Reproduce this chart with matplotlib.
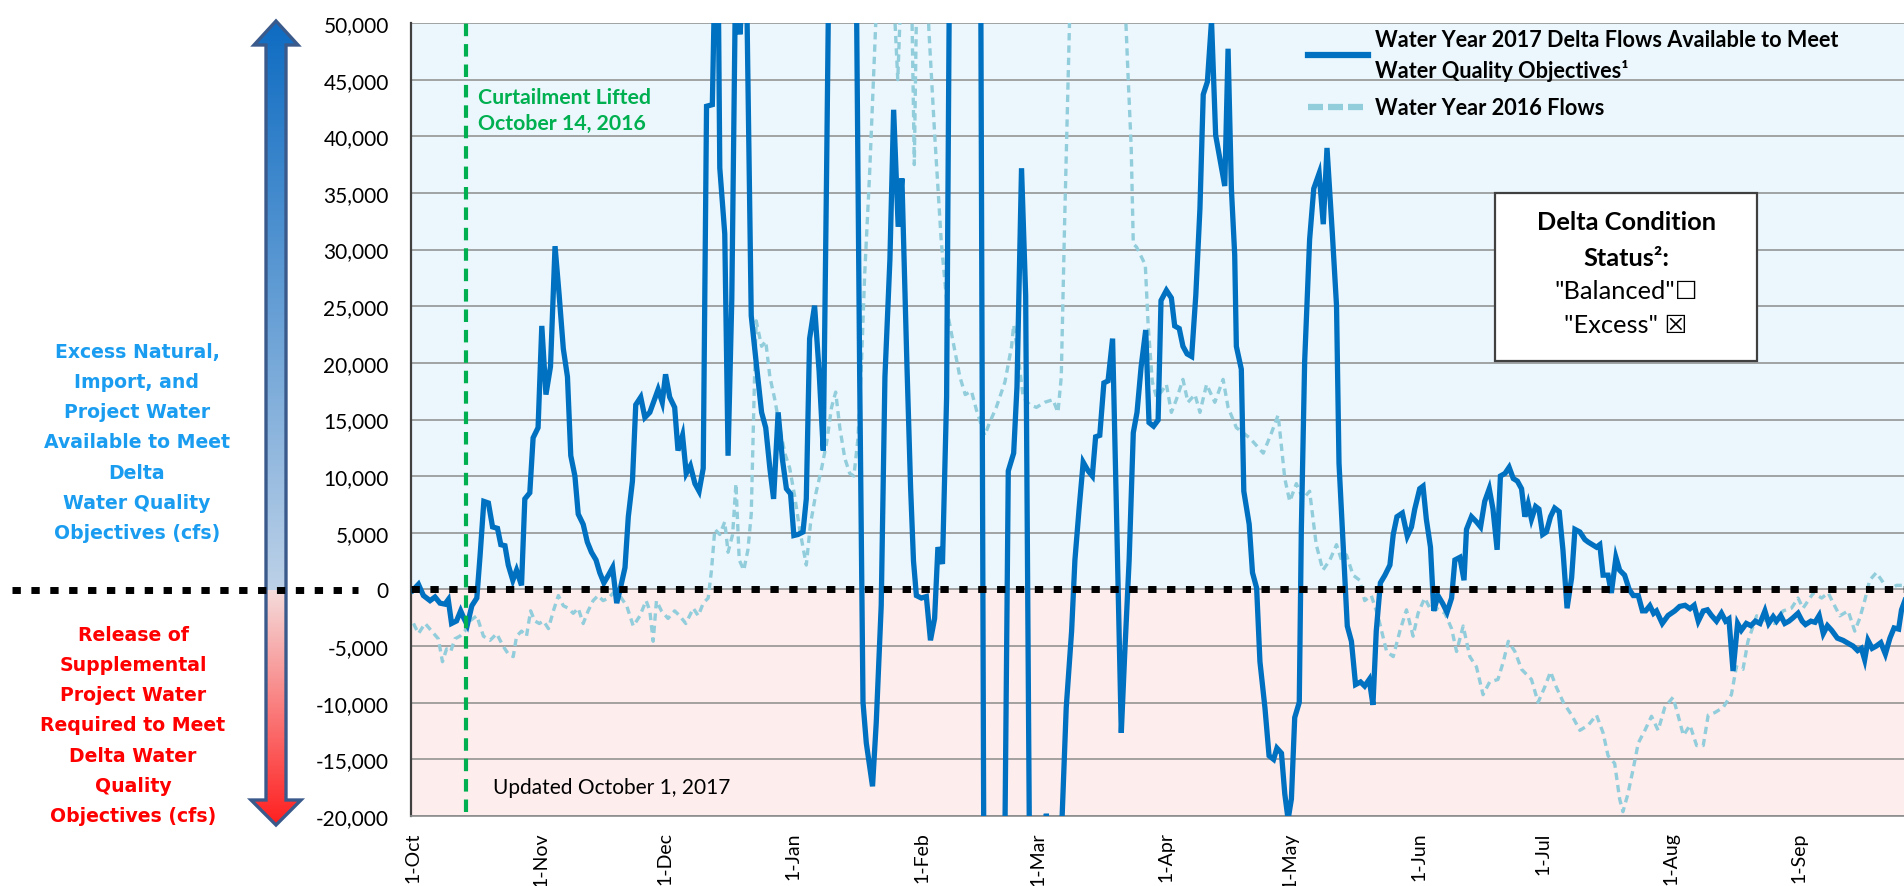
import numpy as np
import matplotlib
matplotlib.use("Agg")
import matplotlib.pyplot as plt
from matplotlib.patches import Polygon, Rectangle
from matplotlib.ticker import FuncFormatter

plt.rcParams['font.family'] = ['Lato', 'DejaVu Sans']

# x = days since 1-Oct, values in cfs
wy17_day = [0, 1.4, 2.6, 4.2, 5.4, 6.6, 7.8, 8.6, 9.4, 10.6, 11.6, 12.4, 13.2, 14.3, 15.5,
            16.3, 17.2, 18.3, 19.3, 20.5, 21.3, 22.3, 23.1, 24.2, 25.1, 26.3, 27.1, 28.3,
            29.1, 30.3, 31.2, 32.2, 33.3, 34.4, 35.4, 36.4, 37.4, 38.2, 39.2, 40.0, 41.2,
            42.2, 43.2, 44.3, 45.2, 46.2, 47.3, 48.3, 49.3, 50.2, 51.3, 52.1, 53.1, 53.9,
            55.1, 56.1, 57.3, 59.3, 60.3, 61.1, 62.1, 63.3, 64.1, 65.2, 66.1, 67.1, 68.2,
            69.2, 70.2, 71.0, 72.4, 73.2, 73.8, 74.2, 75.4, 76.2, 77.1, 77.9, 78.4, 79.1,
            79.7, 80.5, 81.8, 83.1, 84.3, 85.3, 86.3, 87.2, 88.3, 89.3, 90.3, 91.3, 92.1,
            93.1, 94.3, 95.1, 95.9, 97.1, 98.2, 99.2, 100.0, 101.0, 104.0, 107.0, 108.0,
            108.8, 109.6, 111.1, 112.0, 113.2, 114.1, 115.3, 116.2, 117.3, 118.2, 119.4,
            120.3, 121.0, 121.7, 122.9, 124.1, 125.1, 126.1, 126.9, 128.0, 129.0, 130.0,
            134.0, 137.0, 138.0, 143.0, 143.9, 145.2, 146.0, 147.1, 148.1, 149.0, 150.0,
            152.3, 153.1, 153.9, 156.5, 157.9, 159.2, 160.0, 161.0, 162.0, 163.2, 164.2,
            165.0, 166.0, 167.0, 168.0, 169.1, 170.0, 171.2, 172.0, 173.1, 174.1, 175.0,
            176.0, 177.1, 177.9, 179.0, 180.1, 180.8, 182.1, 183.3, 184.1, 185.2, 186.1,
            187.1, 188.2, 189.2, 190.2, 191.0, 192.0, 193.0, 194.0, 195.2, 196.2, 197.0,
            197.8, 198.6, 199.0, 200.2, 200.8, 202.1, 202.9, 203.9, 204.7, 205.9, 206.9,
            208.0, 208.8, 209.9, 210.7, 211.5, 212.3, 213.1, 214.2, 214.7, 215.5, 216.7,
            217.7, 219.0, 220.0, 220.9, 222.2, 223.2, 223.8, 224.8, 225.8, 226.8, 227.8,
            229.0, 230.0, 231.1, 232.0, 232.8, 233.8, 234.9, 236.1, 236.9, 237.8, 239.1,
            240.3, 241.3, 242.1, 243.3, 244.1, 244.9, 245.9, 246.7, 247.7, 248.8, 249.9,
            251.0, 251.8, 253.0, 254.0, 254.6, 255.8, 257.0, 258.0, 259.0, 260.1, 261.0,
            262.0, 262.8, 263.9, 264.9, 265.9, 266.9, 267.9, 268.7, 269.5, 270.3, 271.3,
            272.1, 273.0, 273.9, 274.9, 275.9, 277.0, 277.9, 278.9, 280.0, 280.8, 282.0,
            283.2, 284.0, 285.0, 286.0, 286.8, 287.6, 288.8, 289.6, 290.7, 291.6, 292.8,
            293.9, 294.9, 296.1, 297.1, 297.9, 298.9, 299.8, 300.5, 301.9, 303.3, 304.9,
            306.1, 307.4, 308.6, 309.6, 310.6, 311.8, 312.8, 313.8, 315.0, 316.2, 317.2,
            318.0, 319.0, 320.1, 321.0, 322.2, 323.3, 324.4, 325.5, 326.7, 327.6, 328.7,
            329.5, 330.5, 331.5, 332.5, 333.5, 334.7, 335.7, 336.5, 337.8, 338.8, 339.8,
            340.8, 341.8, 342.8, 344.2, 345.6, 347.0, 348.0, 349.1, 350.0, 350.8, 351.6,
            352.6, 353.6, 354.7, 355.8, 356.9, 357.9, 359.0, 359.7, 360.6]
wy17_flow = [-100, 450, -540, -990, -670, -1210, -1300, -900, -3000, -2780, -1890, -2560,
             -3140, -1440, -760, 3050, 7770, 7630, 5520, 5390, 3950, 3860, 2150, 810, 1700,
             360, 7990, 8530, 13380, 14280, 23260, 17200, 19670, 30300, 25950, 21240, 18770,
             11810, 10010, 6650, 5750, 4180, 3280, 2600, 1480, 580, 1260, 1930, -1210, 130,
             1930, 6420, 9560, 16300, 16970, 15180, 15630, 17650, 16520, 18990, 16970, 16070,
             12260, 13600, 10240, 10910, 9340, 8670, 10690, 42650, 42790, 58000, 55000, 37200,
             31400, 11800, 25600, 50500, 52000, 49000, 53000, 58000, 24160, 19670, 15630,
             14280, 10690, 7990, 15630, 11580, 8890, 8440, 4760, 4850, 5070, 7990, 22140,
             25050, 19220, 12260, 36700, 70000, 90000, 62000, 18770, -9970, -13560, -17380,
             -11760, -1440, 18770, 29100, 42340, 32010, 36280, 20000, 9000, 2500, -540, -760,
             -630, -4490, -2560, 3730, 2250, 16970, 72000, 85000, 80000, -25000, -25000,
             10460, 12030, 17870, 37180, 25950, -22000, -30000, -28000, -19800, -28000,
             -24000, -10420, -3680, 2600, 7090, 11230, 10460, 10010, 13470, 13600, 18230,
             18410, 22140, 7540, -12660, -5930, 2600, 13830, 15630, 19670, 22900, 14730,
             14410, 14950, 25500, 26400, 25730, 23260, 23030, 21460, 20790, 20560, 25950,
             33590, 43690, 44810, 50200, 40100, 37630, 35610, 47730, 35380, 29540, 21460,
             19440, 8670, 5750, 1480, 130, -6380, -10420, -14680, -15000, -14010, -14460,
             -18050, -20300, -18500, -11310, -9970, 5300, 20110, 30890, 35380, 36730, 32240,
             38970, 31340, 25050, 11140, 3950, -3230, -4580, -8400, -8170, -8530, -7950,
             -10190, -3680, 580, 1260, 2150, 4850, 6420, 6740, 4700, 5500, 7090, 8890, 9110,
             6200, 3730, -1890, -540, -1210, -2020, -760, 2600, 2830, 810, 5300, 6420, 5970,
             5520, 7770, 8890, 7090, 3500, 10010, 10240, 10780, 9790, 9560, 8890, 6420, 7540,
             6200, 7320, 7090, 4850, 5070, 6420, 7180, 6870, 3500, -1660, 1030, 5300, 5070,
             4400, 4180, 3950, 3730, 3950, 1260, 1260, -310, 2830, 1700, 1260, 0, -540, -540,
             -1890, -1890, -1440, -2110, -1900, -3000, -2300, -1900, -1500, -1400, -1700,
             -1400, -2800, -1900, -1800, -2300, -2800, -2100, -2800, -2600, -7200, -3000,
             -3600, -3000, -3200, -2800, -3000, -1900, -3000, -2400, -2800, -2300, -3000,
             -2800, -2500, -2100, -2800, -3100, -2800, -2900, -2300, -3900, -3200, -3600,
             -4300, -4500, -4800, -5000, -5400, -5200, -6200, -4500, -5200, -5000, -4700,
             -5700, -4300, -3400, -3500, -1800, -900]

wy16_day = [0.2, 1.4, 3.0, 4.6, 6.2, 7.2, 8.2, 9.2, 10.2, 11.4, 12.6, 13.8, 15.5, 17.1, 18.7,
            20.3, 21.9, 23.1, 24.3, 25.1, 26.3, 27.5, 28.5, 29.5, 30.6, 31.6, 32.8, 34.0,
            35.2, 36.4, 37.6, 38.8, 40.0, 41.2, 42.4, 43.6, 44.8, 46.0, 47.3, 48.5, 50.1,
            51.7, 53.3, 54.9, 56.4, 57.3, 58.1, 58.9, 60.1, 61.7, 63.3, 64.5, 66.0, 67.8,
            69.0, 70.2, 71.4, 72.2, 73.0, 74.2, 75.4, 76.2, 77.3, 78.1, 78.9, 80.0, 81.0,
            81.8, 82.6, 83.0, 84.3, 85.3, 86.3, 87.5, 88.7, 89.9, 91.1, 92.3, 93.5, 95.1,
            96.1, 97.4, 98.8, 100.0, 101.2, 102.2, 103.2, 104.4, 105.6, 106.6, 107.6, 108.4,
            109.2, 110.4, 111.6, 113.0, 115.5, 117.2, 118.3, 120.4, 121.2, 121.9, 124.0,
            124.7, 126.1, 127.7, 129.3, 130.9, 132.2, 133.5, 135.0, 136.2, 138.2, 139.4,
            141.0, 143.1, 144.7, 145.2, 146.3, 147.5, 149.1, 150.7, 152.7, 154.7, 155.9,
            156.7, 157.5, 158.4, 159.5, 166.0, 171.2, 172.8, 173.6, 174.1, 174.9, 177.0,
            177.7, 178.7, 179.7, 181.0, 182.1, 183.3, 184.5, 186.1, 187.3, 189.0, 190.2,
            191.8, 193.8, 195.8, 197.0, 199.0, 202.2, 205.5, 207.5, 209.1, 210.7, 211.9,
            213.5, 215.1, 216.7, 218.3, 219.9, 221.6, 223.2, 224.4, 225.6, 227.2, 228.8,
            230.0, 231.6, 233.2, 235.3, 236.9, 238.5, 240.1, 241.7, 242.9, 244.5, 246.1,
            247.3, 249.4, 251.0, 252.2, 253.8, 255.4, 257.0, 258.6, 260.2, 262.2, 263.5,
            264.7, 266.3, 267.9, 270.3, 271.9, 273.5, 274.9, 276.3, 278.0, 280.0, 282.0,
            284.0, 286.0, 287.6, 288.8, 290.4, 291.6, 292.4, 293.6, 294.9, 296.1, 297.7,
            299.3, 300.9, 302.5, 304.5, 305.7, 307.0, 308.6, 310.2, 311.8, 313.0, 314.6,
            316.6, 318.6, 319.8, 321.4, 322.6, 324.7, 327.1, 329.1, 331.1, 333.1, 334.7,
            335.9, 338.4, 340.4, 342.0, 343.2, 344.8, 346.8, 348.4, 349.6, 350.8, 352.0,
            353.6, 354.9, 356.5, 358.5, 360.5]
wy16_flow = [-3000, -3900, -3000, -3680, -4360, -6380, -5250, -5480, -4360, -4130, -3680,
             -2780, -2330, -4130, -4490, -3910, -5030, -5700, -5930, -4130, -3680, -4130,
             -1890, -2780, -3010, -2780, -3460, -1890, -540, -1440, -1660, -2110, -1660,
             -3010, -1890, -990, -540, -990, -760, -310, -600, -1440, -3230, -2330, -990,
             -1890, -4580, -1000, -1890, -2560, -1890, -2330, -3010, -1660, -2330, -1210,
             -760, 1700, 5300, 4850, 5970, 3280, 4850, 9340, 2600, 1700, 3500, 6650, 18770,
             23710, 21460, 21910, 18770, 16750, 14280, 12030, 10690, 8220, 5300, 2150, 5750,
             8440, 10690, 12930, 16070, 17420, 14280, 11580, 10240, 10010, 13380, 19670,
             27750, 36730, 47500, 60000, 58000, 45000, 56000, 56000, 37500, 56000, 58000,
             49500, 40250, 30750, 24250, 21250, 18770, 17200, 17500, 15850, 13600, 14730,
             16070, 18320, 21460, 23350, 20560, 16970, 16300, 16070, 16520, 16750, 15630,
             18770, 32240, 45710, 62000, 70000, 60000, 45710, 38970, 30500, 30220, 28650,
             23260, 18320, 16970, 17500, 18100, 15630, 16750, 18540, 16520, 17200, 15630,
             18100, 16520, 18540, 16070, 14280, 13380, 12030, 13830, 15400, 9790, 7770, 9340,
             7990, 8670, 3950, 1700, 2600, 3950, 2600, 3050, 1260, 810, -990, -540, -2330,
             -5480, -5930, -3680, -1800, -4130, -2110, -760, -1890, -1660, -2110, -3460,
             -5480, -3230, -5930, -6830, -9290, -8170, -7950, -6380, -4580, -5480, -7050,
             -7950, -9970, -8620, -7270, -8620, -9970, -11090, -12440, -11990, -11090,
             -12660, -14680, -15360, -18500, -19620, -18050, -15800, -13560, -12440, -11200,
             -12440, -10420, -9520, -11090, -12890, -11990, -13780, -13780, -11090, -10870,
             -10420, -9290, -6830, -7050, -4580, -2330, -2780, -3010, -1890, -1660, -760,
             -1660, -310, -760, -310, -1210, -2330, -1890, -3680, -2560, -990, 810, 1480,
             810, -90, 360, 360]

month_days = [0, 31, 61, 92, 123, 151, 182, 212, 243, 273, 304, 335]
month_labels = ['1-Oct', '1-Nov', '1-Dec', '1-Jan', '1-Feb', '1-Mar', '1-Apr', '1-May',
                '1-Jun', '1-Jul', '1-Aug', '1-Sep']
curtail_day = 13  # October 14, 2016

W, H = 1904, 887
fig = plt.figure(figsize=(W / 100, H / 100), dpi=100)

# pixel-space layer for the left-hand decorations
deco = fig.add_axes([0, 0, 1, 1], zorder=0)
deco.set_xlim(0, W)
deco.set_ylim(H, 0)
deco.axis('off')

ax = fig.add_axes([411 / W, 1 - 817 / H, (W - 411) / W, (817 - 24) / H], zorder=1)
ax.set_xlim(-0.4, 360.3)
ax.set_ylim(-20000, 50000)

ax.axhspan(0, 50000, color='#ebf7fd', zorder=0, lw=0)
ax.axhspan(-20000, 0, color='#fdeded', zorder=0, lw=0)
ax.set_axisbelow(True)
ax.set_yticks(np.arange(-20000, 50001, 5000))
ax.yaxis.set_major_formatter(FuncFormatter(lambda v, p: f"{int(v):,}"))
ax.grid(axis='y', color='#8c8c8c', lw=1.1)
ax.set_xticks(month_days, month_labels, rotation=90)
ax.tick_params(axis='y', length=0, pad=16, labelsize=15)
ax.tick_params(axis='x', length=0, pad=11, labelsize=14)
for s in ['top', 'right']:
    ax.spines[s].set_visible(False)
ax.spines['left'].set_color('#404040')
ax.spines['left'].set_linewidth(1.6)
ax.spines['bottom'].set_color('#8c8c8c')
ax.spines['bottom'].set_linewidth(1.2)

l16, = ax.plot(wy16_day, wy16_flow, color='#92cddc', lw=2.4, ls=(0, (2.2, 1.5)), zorder=3)
l17, = ax.plot(wy17_day, wy17_flow, color='#0070c0', lw=3.8, zorder=4,
               solid_joinstyle='miter')
ax.axvline(curtail_day, ymin=0.005, ymax=1, color='#00b050', lw=3, ls=(0, (3.0, 1.9)), zorder=5)
dots = (0, (1.2, 1.52))
ax.axhline(0, color='black', lw=5, ls=dots, zorder=6)

ax.text(0.045, 0.890, 'Curtailment Lifted\nOctober 14, 2016', transform=ax.transAxes,
        color='#00b050', fontsize=15.3, fontweight='bold', ha='left', va='center',
        linespacing=1.35)
ax.text(0.0549, 0.0366, 'Updated October 1, 2017', transform=ax.transAxes,
        fontsize=15, ha='left', va='center')

dash_handle = plt.Line2D([], [], color='#92cddc', lw=4.5, ls=(0, (2.4, 0.8)))
leg = ax.legend([l17, dash_handle],
                ['Water Year 2017 Delta Flows Available to Meet\nWater Quality Objectives\u00b9',
                 'Water Year 2016 Flows'],
                loc='upper left', bbox_to_anchor=(0.601, 0.993), frameon=False,
                prop={'family': 'Lato', 'weight': 'bold', 'size': 15.6},
                handlelength=2.75, handletextpad=0.35, labelspacing=0.78,
                borderpad=0, borderaxespad=0)
leg.get_lines()[0].set_linewidth(4.5)
for t in leg.get_texts():
    t.set_linespacing(1.5)

# Delta condition status box
ax.add_patch(Rectangle((0.726, 0.5738), 0.1755, 0.2118, transform=ax.transAxes,
                       facecolor='white', edgecolor='#404040', lw=1.6, zorder=8))
bx = 0.8138
box_lines = [('Delta Condition', 'bold', 222), ('Status\u00b2:', 'bold', 259),
             ('"Balanced"\u2610', 'normal', 291), ('"Excess" \u2612', 'normal', 325)]
for txt, wt, ypix in box_lines:
    ax.text(bx, (817 - ypix) / 793, txt, transform=ax.transAxes, ha='center', va='center',
            fontsize=18.3, fontweight=wt, zorder=9)

# double-headed gradient arrow on the left
cx = 276
arrow_pts = [(cx, 22), (298, 46), (286, 46), (286, 801), (301, 801), (cx, 826),
             (251, 801), (266, 801), (266, 46), (254, 46)]
arrow = Polygon(arrow_pts, closed=True, facecolor='none', edgecolor='#3b5a8c', lw=2.4,
                zorder=3)
deco.add_patch(arrow)
rows = np.arange(20, 830)
top_c = np.array([0.05, 0.42, 0.76])
mid_c = np.array([0.74, 0.82, 0.91])
low_c = np.array([0.96, 0.86, 0.86])
bot_c = np.array([1.0, 0.12, 0.12])
grad = np.zeros((len(rows), 1, 3))
for i, r in enumerate(rows):
    if r <= 590:
        f = (r - 20) / 570
        grad[i, 0] = top_c + (mid_c - top_c) * f
    else:
        f = (r - 591) / 235
        grad[i, 0] = low_c + (bot_c - low_c) * min(f, 1)
img = deco.imshow(grad, extent=[248, 304, 830, 20], aspect='auto', zorder=2)
img.set_clip_path(Polygon(arrow_pts, closed=True, transform=deco.transData))
deco.plot([12, 358], [590.5, 590.5], color='black', lw=5, ls=dots, zorder=4)

deco.text(137, 443, 'Excess Natural,\nImport, and\nProject Water\nAvailable to Meet\nDelta\n'
          'Water Quality\nObjectives (cfs)', color='#1a9df0', fontsize=13.6,
          fontweight='bold', family='DejaVu Sans', ha='center', va='center', linespacing=1.74,
          zorder=5)
deco.text(133, 726, 'Release of\nSupplemental\nProject Water\nRequired to Meet\nDelta Water\n'
          'Quality\nObjectives (cfs)', color='#ff0000', fontsize=13.6, fontweight='bold',
          family='DejaVu Sans', ha='center', va='center', linespacing=1.74, zorder=5)

fig.savefig('out.png', dpi=100)
